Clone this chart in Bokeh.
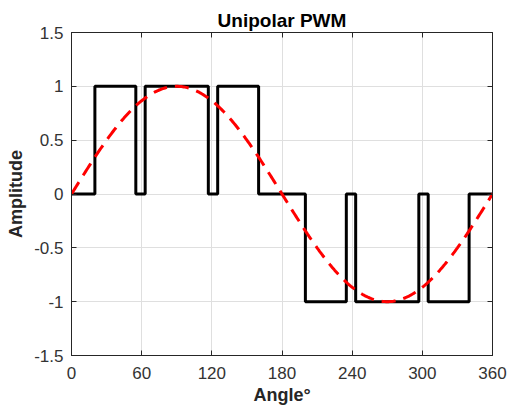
import numpy as np
from bokeh.plotting import figure
from bokeh.models import LinearAxis, FixedTicker, Range1d
from bokeh.embed import file_html
from bokeh.resources import INLINE

# Data
switch_angles = [0, 20, 55, 63, 117, 125, 160, 200, 235, 243, 297, 305, 340, 360]
pwm_levels = [0, 1, 0, 1, 0, 1, 0, -1, 0, -1, 0, -1, 0, 0]
ref_angle = np.linspace(0, 360, 361)
ref_amplitude = np.sin(np.deg2rad(ref_angle))
x_ticks = [0, 60, 120, 180, 240, 300, 360]
y_ticks = [-1.5, -1, -0.5, 0, 0.5, 1, 1.5]
y_tick_labels = ["-1.5", "-1", "-0.5", "0", "0.5", "1", "1.5"]

FONT = "Liberation Sans"
TXT = "#262626"

p = figure(width=508, height=413, output_backend="svg", toolbar_location=None,
           x_range=Range1d(0, 360), y_range=Range1d(-1.5, 1.5),
           min_border_left=71, min_border_right=16, min_border_top=32, min_border_bottom=58)
p.background_fill_color = "white"
p.border_fill_color = "white"
p.outline_line_color = TXT
p.outline_line_width = 1

p.title.text = "Unipolar PWM"
p.title.align = "center"
p.title.text_font = FONT
p.title.text_font_size = "19px"
p.title.text_font_style = "bold"
p.title.text_color = "black"
p.title.standoff = 4

for ax in [p.xaxis[0], p.yaxis[0]]:
    ax.major_tick_in = 5
    ax.major_tick_out = 0
    ax.minor_tick_line_color = None
    ax.axis_line_color = TXT
    ax.major_tick_line_color = TXT
    ax.major_label_text_font = FONT
    ax.major_label_text_font_size = "17px"
    ax.major_label_text_color = "#333333"
    ax.axis_label_text_font = FONT
    ax.axis_label_text_font_size = "18px"
    ax.axis_label_text_font_style = "bold"
    ax.axis_label_text_color = TXT

p.xaxis[0].ticker = FixedTicker(ticks=x_ticks)
p.yaxis[0].ticker = FixedTicker(ticks=y_ticks)
p.yaxis[0].major_label_overrides = dict(zip(y_ticks, y_tick_labels))
p.xaxis[0].axis_label = "Angle°"
p.yaxis[0].axis_label = "Amplitude"
p.xaxis[0].axis_label_standoff = 3
p.yaxis[0].axis_label_standoff = 5
p.xaxis[0].major_label_standoff = 11
p.yaxis[0].major_label_standoff = 8

for loc, tick in [("above", x_ticks), ("right", y_ticks)]:
    ax = LinearAxis(ticker=FixedTicker(ticks=tick),
                    major_label_overrides={t: "" for t in tick},
                    major_tick_in=5, major_tick_out=0, minor_tick_line_color=None,
                    axis_line_color=TXT, major_tick_line_color=TXT,
                    major_label_standoff=0)
    p.add_layout(ax, loc)

p.xgrid.ticker = FixedTicker(ticks=x_ticks)
p.ygrid.ticker = FixedTicker(ticks=y_ticks)
p.grid.grid_line_color = "#dfdfdf"
p.grid.grid_line_width = 1

p.step(switch_angles, pwm_levels, mode="after", line_color="black", line_width=3)
p.line(ref_angle, ref_amplitude, line_color="#ff0000", line_width=3, line_dash="14 8")

open("out.html", "w").write(file_html(p, INLINE))
